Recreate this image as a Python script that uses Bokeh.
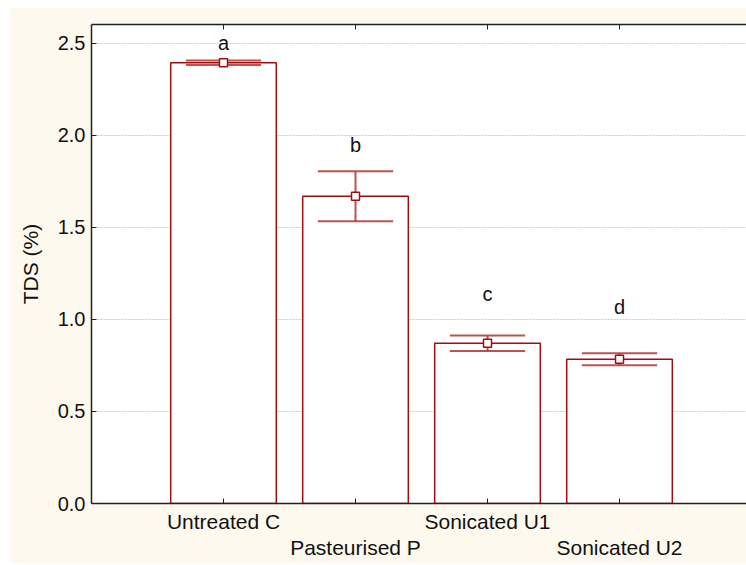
from bokeh.plotting import figure
from bokeh.models import Range1d, FixedTicker, LinearAxis, PrintfTickFormatter
from bokeh.embed import file_html
from bokeh.resources import INLINE
from bokeh.core.properties import value

# ---- data ----
categories = ["Untreated C", "Pasteurised P", "Sonicated U1", "Sonicated U2"]
means = [2.395, 1.670, 0.871, 0.784]
errors = [0.012, 0.136, 0.042, 0.033]
letters = ["a", "b", "c", "d"]
letter_y = [2.500, 1.947, 1.141, 1.069]
y_ticks = [0.0, 0.5, 1.0, 1.5, 2.0, 2.5]

xs = list(range(len(categories)))
lower = [m - e for m, e in zip(means, errors)]
upper = [m + e for m, e in zip(means, errors)]
cap_half = 0.285

RED = "#A30D0D"
ERR = "#B03535"
BG = "#FDF9EE"
FONT = "Liberation Sans"

p = figure(width=736, height=556, margin=(7, 0, 0, 10),
           output_backend="svg", toolbar_location=None,
           x_range=Range1d(-1, 3.962), y_range=Range1d(0, 2.603),
           min_border_left=81, min_border_right=0, min_border_top=17, min_border_bottom=60)
p.background_fill_color = "white"
p.border_fill_color = BG
p.outline_line_color = None

# bars
p.vbar(x=xs, top=means, bottom=0, width=0.8, fill_color="white",
       line_color=RED, line_width=1.5)

# error bars
p.segment(x0=xs, y0=lower, x1=xs, y1=upper, line_color=ERR, line_width=2, line_alpha=0.85)
p.segment(x0=[x - cap_half for x in xs], y0=upper, x1=[x + cap_half for x in xs], y1=upper,
          line_color=ERR, line_width=2, line_alpha=0.85)
p.segment(x0=[x - cap_half for x in xs], y0=lower, x1=[x + cap_half for x in xs], y1=lower,
          line_color=ERR, line_width=2, line_alpha=0.85)
p.scatter(x=xs, y=means, marker="square", size=8, fill_color="white",
          line_color=RED, line_width=1.5)

# letters
p.text(x=xs, y=letter_y, text=letters, text_align="center", text_baseline="middle",
       text_font=value(FONT), text_font_size="20px", text_color="#111111")

# grid
p.xgrid.visible = False
p.ygrid.ticker = FixedTicker(ticks=y_ticks)
p.ygrid.grid_line_color = "#CCCCCC"
p.ygrid.grid_line_dash = "2 1"

# y axis
ya = p.yaxis[0]
ya.ticker = FixedTicker(ticks=y_ticks)
ya.formatter = PrintfTickFormatter(format="%.1f")
ya.axis_label = "TDS (%)"
ya.axis_label_text_font = FONT
ya.axis_label_text_font_size = "21px"
ya.axis_label_text_font_style = "normal"
ya.axis_label_text_color = "#111111"
ya.axis_label_standoff = 13
ya.major_label_text_font = FONT
ya.major_label_text_font_size = "20px"
ya.major_label_text_color = "#111111"
ya.major_label_standoff = 6
ya.major_tick_in = 5
ya.major_tick_out = 0
ya.minor_tick_in = 0
ya.minor_tick_out = 0
ya.axis_line_color = "#222222"
ya.axis_line_width = 1.5
ya.major_tick_line_color = "#222222"

# bottom axis row 1 (even categories)
xa = p.xaxis[0]
xa.ticker = FixedTicker(ticks=xs)
xa.major_label_overrides = {i: (categories[i] if i % 2 == 0 else "") for i in xs}
xa.major_label_text_font = FONT
xa.major_label_text_font_size = "21px"
xa.major_label_text_color = "#111111"
xa.major_label_standoff = 6
xa.major_tick_in = 5
xa.major_tick_out = 0
xa.minor_tick_in = 0
xa.minor_tick_out = 0
xa.axis_line_color = "#222222"
xa.axis_line_width = 1.5
xa.major_tick_line_color = "#222222"

# bottom axis row 2 (odd categories)
xb = LinearAxis(ticker=FixedTicker(ticks=xs))
xb.major_label_overrides = {i: (categories[i] if i % 2 == 1 else "") for i in xs}
xb.major_label_text_font = FONT
xb.major_label_text_font_size = "21px"
xb.major_label_text_color = "#111111"
xb.major_label_standoff = 0
xb.major_tick_in = 0
xb.major_tick_out = 0
xb.minor_tick_in = 0
xb.minor_tick_out = 0
xb.axis_line_color = None
xb.major_tick_line_color = None
p.add_layout(xb, "below")

# top axis (mirror, no labels)
xt = LinearAxis(ticker=FixedTicker(ticks=xs))
xt.major_label_overrides = {i: "" for i in xs}
xt.major_label_text_font_size = "1px"
xt.major_label_standoff = 0
xt.major_tick_in = 5
xt.major_tick_out = 0
xt.minor_tick_in = 0
xt.minor_tick_out = 0
xt.axis_line_color = "#222222"
xt.axis_line_width = 1.5
xt.major_tick_line_color = "#222222"
p.add_layout(xt, "above")

open("out.html", "w").write(file_html(p, INLINE))
